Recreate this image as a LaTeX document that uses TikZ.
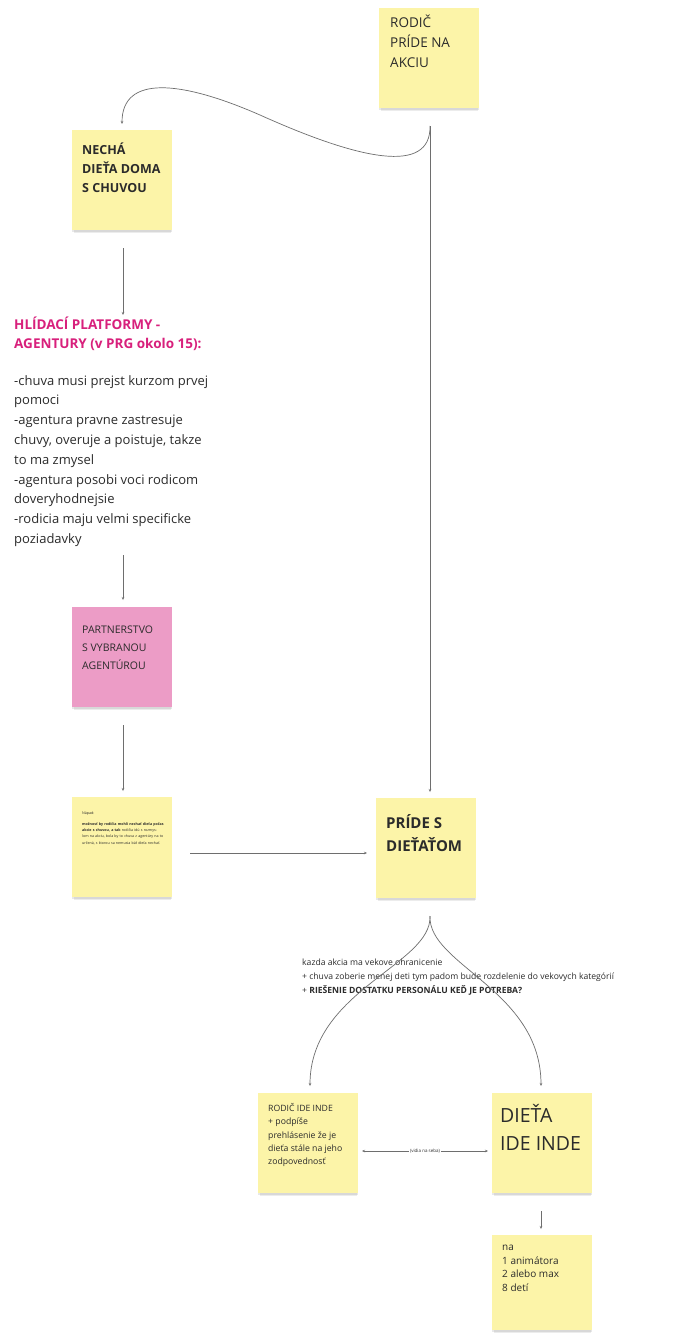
\documentclass[tikz,border=0pt]{standalone}
\usepackage{fontspec}
\setmainfont{Open Sans}
\usetikzlibrary{arrows.meta,shadows}
\definecolor{stickyY}{HTML}{FCF4A8}
\definecolor{stickyP}{HTML}{EC9CC6}
\definecolor{headpink}{HTML}{D8207C}
\definecolor{txt}{HTML}{2B2B2B}
\definecolor{conn}{HTML}{6E6E6E}
\tikzset{
  sticky/.style={draw=none, fill=stickyY, minimum width=100pt, minimum height=100pt, anchor=north west, inner sep=0pt,
    drop shadow={shadow xshift=0pt, shadow yshift=-2pt, opacity=0.18},
    drop shadow={shadow xshift=0pt, shadow yshift=-4pt, opacity=0.15, shadow scale=0.97}},
  pinksticky/.style={sticky, fill=stickyP},
  txtnode/.style={anchor=north west, inner sep=0pt, align=left, text=txt},
  conn/.style={draw=conn, line width=0.7pt, -{Stealth[length=3pt,width=2.5pt]}},
  dconn/.style={draw=conn, line width=0.6pt, {Stealth[length=3pt,width=2.5pt]}-{Stealth[length=3pt,width=2.5pt]}},
}
\newcommand{\fs}[2]{\fontsize{#1}{#2}\selectfont}
\begin{document}
\begin{tikzpicture}[x=1pt,y=-1pt]
\useasboundingbox (0,0) rectangle (682,1333);
\fill[white] (0,0) rectangle (682,1333);

% stickies
\node[sticky] (rodic) at (379,8) {};
\node[txtnode, font=\fs{13.5}{20}] (rodicT) at (390,15) {RODIČ\\PRÍDE NA\\AKCIU};

\node[sticky] (necha) at (72,130) {};
\node[txtnode, font=\fs{12.5}{19}\bfseries] (nechaT) at (82,143) {NECHÁ\\DIEŤA DOMA\\S CHUVOU};

\node[txtnode, font=\fs{13.5}{19}\bfseries, text=headpink] (head) at (14,317) {HLÍDACÍ PLATFORMY -\\AGENTURY (v PRG okolo 15):};
\node[txtnode, font=\fs{13}{19.8}] (body) at (14,375) {-chuva musi prejst kurzom prvej\\pomoci\\-agentura pravne zastresuje\\chuvy, overuje a poistuje, takze\\to ma zmysel\\-agentura posobi voci rodicom\\doveryhodnejsie\\-rodicia maju velmi specificke\\poziadavky};

\node[pinksticky] (partner) at (72,607) {};
\node[txtnode, font=\fs{10.5}{18}] (partnerT) at (82,626) {PARTNERSTVO\\S VYBRANOU\\AGENTÚROU};

\node[sticky] (napad) at (72,797) {};
\node[txtnode, font=\fs{3.6}{6.3}, text width=82pt] (napadT) at (82,812) {Nápad:\\[4pt]\textbf{možnosť by rodičia mohli nechať dieťa počas akcie s chuvou, a tak} rodičia idú s rozmyslom na akciu, bola by to chuva z agentúry na to určená, s ktorou sa nemusia báť dieťa nechať.};

\node[sticky] (pride) at (376,798) {};
\node[txtnode, font=\fs{15}{23}\bfseries] (prideT) at (386,814) {PRÍDE S\\DIEŤAŤOM};

\node[txtnode, font=\fs{8.6}{14}] (koment) at (302,959) {kazda akcia ma vekove ohranicenie\\+ chuva zoberie menej deti tym padom bude rozdelenie do vekovych kategórií\\+ \textbf{RIEŠENIE DOSTATKU PERSONÁLU KEĎ JE POTREBA?}};

\node[sticky] (rodicinde) at (258,1093) {};
\node[txtnode, font=\fs{8.7}{13.4}] (rodicindeT) at (268,1103) {RODIČ IDE INDE\\+ podpíše\\prehlásenie že je\\dieťa stále na jeho\\zodpovednosť};

\node[sticky] (dieta) at (492,1093) {};
\node[txtnode, font=\fs{19.5}{28}] (dietaT) at (500,1104) {DIEŤA\\IDE INDE};

\node[sticky, minimum height=95pt] (na) at (492,1235) {};
\node[txtnode, font=\fs{10}{13.6}] (naT) at (502,1245) {na\\1 animátora\\2 alebo max\\8 detí};

% connector anchor coordinates
\coordinate (rodicOut) at (430,126);
\coordinate (nechaIn) at (122,124);
\coordinate (prideIn) at (430,792);
\coordinate (nechaOut) at (123,248);
\coordinate (headIn) at (123,315);
\coordinate (bodyOut) at (123,555);
\coordinate (partnerIn) at (123,600);
\coordinate (partnerOut) at (123,725);
\coordinate (napadIn) at (123,791);
\coordinate (napadOut) at (190,853);
\coordinate (prideW) at (367,853);
\coordinate (prideOut) at (430,916);
\coordinate (rodicindeIn) at (310,1086);
\coordinate (dietaIn) at (541,1086);
\coordinate (rodicindeE) at (362,1151);
\coordinate (dietaW) at (488,1151);
\coordinate (dietaOut) at (541,1211);
\coordinate (naIn) at (541,1229);

% connectors
\draw[conn] (rodicOut) .. controls (431,175) and (360,160) .. (260,115) .. controls (180,80) and (122,75) .. (nechaIn);
\draw[conn] (rodicOut) -- (prideIn);
\draw[conn] (nechaOut) -- (headIn);
\draw[conn] (bodyOut) -- (partnerIn);
\draw[conn] (partnerOut) -- (napadIn);
\draw[conn] (napadOut) -- (prideW);
\draw[conn] (prideOut) .. controls (432,965) and (310,990) .. (rodicindeIn);
\draw[conn] (prideOut) .. controls (428,965) and (541,990) .. (dietaIn);
\draw[dconn] (rodicindeE) -- node[fill=white, inner sep=1.5pt, font=\fs{4.5}{5}, text=txt] (vidia) {(vidia na seba)} (dietaW);
\draw[conn] (dietaOut) -- (naIn);
\end{tikzpicture}
\end{document}
